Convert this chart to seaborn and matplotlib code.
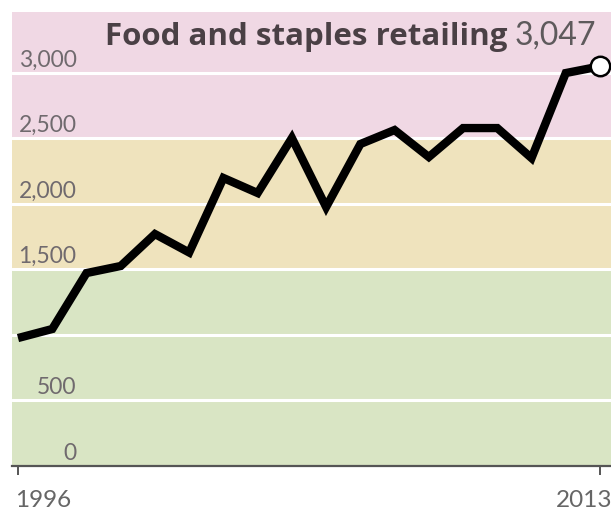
import numpy as np
import pandas as pd
import matplotlib
matplotlib.use("Agg")
import matplotlib.pyplot as plt
import seaborn as sns
from matplotlib import font_manager
from matplotlib.transforms import ScaledTranslation

# ---- data ----
years = list(range(1996, 2014))
values = [973, 1042, 1469, 1523, 1767, 1626, 2195, 2080, 2500, 1973,
          2454, 2561, 2355, 2576, 2576, 2347, 2996, 3047]
y_ticks = [0, 500, 1000, 1500, 2000, 2500, 3000]
y_tick_labels = ["0", "500", "", "1,500", "2,000", "2,500", "3,000"]
x_ticks = [1996, 2013]
x_tick_labels = ["1996", "2013"]
band_edges = [0, 1500, 2500, 3470]
band_colors = ["#d9e5c4", "#efe3bd", "#f0d8e4"]
title_text = "Food and staples retailing"
last_text = "3,047"


def pick(cands):
    for c in cands:
        try:
            font_manager.findfont(font_manager.FontProperties(family=c),
                                  fallback_to_default=False)
            return c
        except Exception:
            pass
    return "DejaVu Sans"


sns.set_style("white")
title_font = pick(["Open Sans", "Lato", "DejaVu Sans"])
reg_font = pick(["Lato", "Open Sans", "DejaVu Sans"])
plt.rcParams["font.family"] = [reg_font, "DejaVu Sans"]

df = pd.DataFrame({"year": years, "value": values})

W, H, DPI = 611, 513, 100
fig = plt.figure(figsize=(W / DPI, H / DPI), dpi=DPI)
fig.patch.set_facecolor("white")
ax = fig.add_axes([12 / W, (H - 465.5) / H, (W - 12) / W, (465.5 - 12) / H])
ax.set_facecolor("white")

for lo, hi, col in zip(band_edges[:-1], band_edges[1:], band_colors):
    ax.axhspan(lo, hi, color=col, lw=0, zorder=0.5)

sns.lineplot(data=df, x="year", y="value", ax=ax, color="black",
             linewidth=6.0, solid_joinstyle="miter", solid_capstyle="butt",
             zorder=3)
ax.plot(years[-1:], values[-1:], "o", ms=14, mfc="white", mec="black",
        mew=1.8, zorder=4, clip_on=False)

ax.set_xlim(1996 - 6 / 34.235, 2013 + 11 / 34.235)
ax.set_ylim(0, 3462)

ax.set_yticks(y_ticks, y_tick_labels)
ax.set_xticks(x_ticks, x_tick_labels)
ax.set_axisbelow(False)
ax.grid(axis="y", color="white", lw=2.2, zorder=2)
ax.grid(axis="x", visible=False)

for s in ["left", "right", "top"]:
    ax.spines[s].set_visible(False)
ax.spines["bottom"].set_color("#555555")
ax.spines["bottom"].set_linewidth(1.6)
ax.spines["bottom"].set_zorder(5)

ax.tick_params(axis="y", length=0, pad=-46.5, labelsize=16.5,
               labelcolor="#706a6e")
ax.tick_params(axis="x", direction="out", length=6.5, width=1.4,
               color="#555555", pad=11, labelsize=17.5, labelcolor="#666666",
               bottom=True)
for lab in ax.get_yticklabels():
    lab.set_va("baseline")
    lab.set_transform(lab.get_transform() + ScaledTranslation(0, 6 / DPI, fig.dpi_scale_trans))
xl = ax.get_xticklabels()
xl[0].set_ha("left")
xl[0].set_transform(xl[0].get_transform() + ScaledTranslation(-3 / DPI, 0, fig.dpi_scale_trans))
xl[1].set_ha("right")
xl[1].set_transform(xl[1].get_transform() + ScaledTranslation(12 / DPI, 0, fig.dpi_scale_trans))
ax.set_xlabel("")
ax.set_ylabel("")

fig.text(507 / W, (H - 45) / H, title_text, ha="right", va="baseline",
         fontsize=22.5, fontweight="bold", color="#4a4045",
         family=[title_font, "DejaVu Sans"])
fig.text(515 / W, (H - 45) / H, last_text, ha="left", va="baseline",
         fontsize=23, color="#5e5a5c", family=[reg_font, "DejaVu Sans"])

fig.savefig("out.png", dpi=DPI, facecolor="white")
